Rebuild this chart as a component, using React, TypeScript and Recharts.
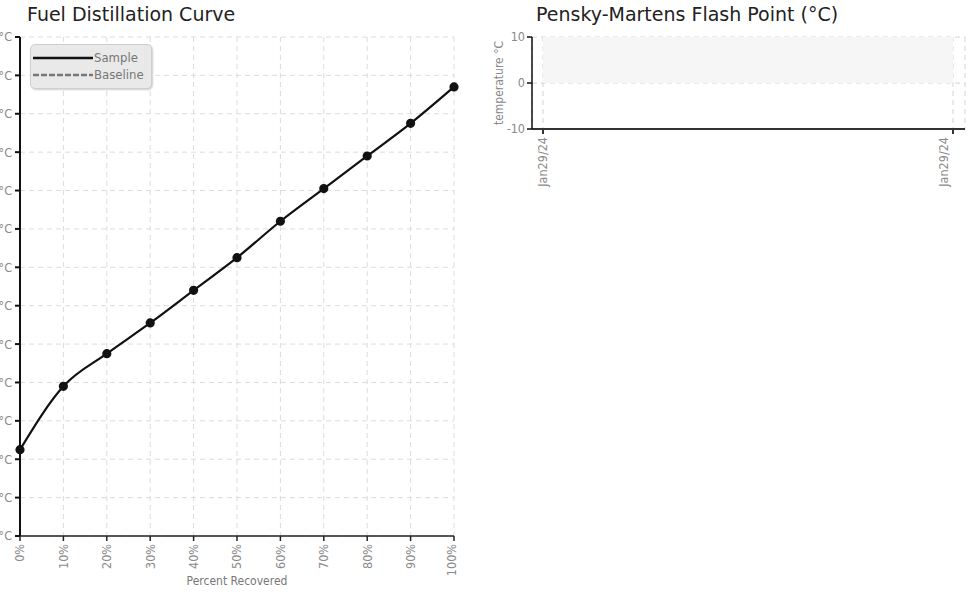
import { CartesianGrid, Legend, Line, LineChart, ReferenceArea, XAxis, YAxis } from 'recharts';

// distillation curve, percent recovered vs temperature
const recovered = [0, 10, 20, 30, 40, 50, 60, 70, 80, 90, 100];
const sampleTemps = [185, 218, 235, 251, 268, 285, 304, 321, 338, 355, 374];
const baselineTemps: (number | null)[] = [null, null, null, null, null, null, null, null, null, null, null];
const tempTicks = [140, 160, 180, 200, 220, 240, 260, 280, 300, 320, 340, 360, 380, 400];
const legendOrder = ['Sample', 'Baseline'];

// flash point history
const flashDates = ['Jan29/24', 'Jan29/24'];
const flashValues: (number | null)[] = [null, null];
const flashTicks = [-10, 0, 10];

const narrow = "'DejaVu Sans Condensed', 'Roboto', sans-serif";
const titleFont = "'DejaVu Sans', 'Noto Sans', sans-serif";

const distRows = recovered.map((pct, i) => ({ pct, sample: sampleTemps[i], baseline: baselineTemps[i] }));
const flashRows = flashDates.map((date, i) => ({ date, flash: flashValues[i] }));

const RotatedTick = ({ x, y, payload, fmt }: any) => (
  <text
    x={x}
    y={y}
    dy="0.35em"
    textAnchor="end"
    transform={`rotate(-90, ${x}, ${y})`}
    fill="#8a8a8a"
    fontSize={12.5}
    fontFamily={narrow}
  >
    {fmt ? fmt(payload.value) : payload.value}
  </text>
);

const LegendBox = ({ payload }: any) => {
  const items = [...(payload || [])].sort((a: any, b: any) => legendOrder.indexOf(a.value) - legendOrder.indexOf(b.value));
  return (
    <div
      style={{
        width: 122,
        height: 45,
        background: '#e9e9e9',
        border: '1px solid #cfcfcf',
        borderRadius: 5,
        boxShadow: '1px 1px 2px rgba(0,0,0,0.2)',
        boxSizing: 'border-box',
        padding: '4px 0 0 2px',
      }}
    >
      {items.map((entry: any) => {
        const dashed = entry.value === 'Baseline';
        return (
          <div key={entry.value} style={{ display: 'flex', alignItems: 'center', height: 17 }}>
            <svg width={60} height={6}>
              <line
                x1={0}
                x2={60}
                y1={3}
                y2={3}
                stroke={dashed ? '#777' : '#111'}
                strokeWidth={2.5}
                strokeDasharray={dashed ? '6 2' : undefined}
              />
            </svg>
            <span style={{ fontFamily: narrow, fontSize: 13, color: '#777', marginLeft: 1 }}>{entry.value}</span>
          </div>
        );
      })}
    </div>
  );
};

export default function App() {
  return (
    <div style={{ position: 'fixed', left: 0, top: 0, width: 973, height: 613, overflow: 'hidden', background: '#fff' }}>
      <div style={{ position: 'absolute', left: 27, top: 1, fontFamily: titleFont, fontSize: 19, color: '#222', lineHeight: '26px' }}>
        Fuel Distillation Curve
      </div>
      <div style={{ position: 'absolute', left: 536, top: 1, fontFamily: titleFont, fontSize: 19, color: '#222', lineHeight: '26px' }}>
        Pensky-Martens Flash Point (°C)
      </div>

      <div style={{ position: 'absolute', left: -40, top: 0 }}>
        <LineChart width={504} height={613} data={distRows} margin={{ top: 37, right: 10, bottom: 22, left: 0 }}>
          <CartesianGrid stroke="#dcdcdc" strokeDasharray="5 4" />
          <XAxis
            dataKey="pct"
            type="number"
            domain={[0, 100]}
            ticks={recovered}
            height={55}
            stroke="#222"
            strokeWidth={1.5}
            tickSize={5}
            tickMargin={3}
            tick={<RotatedTick fmt={(v: number) => `${v}%`} />}
            label={{ value: 'Percent Recovered', position: 'insideBottom', offset: 6, fill: '#777', fontSize: 12, fontFamily: narrow }}
          />
          <YAxis
            domain={[140, 400]}
            ticks={tempTicks}
            width={60}
            stroke="#111"
            strokeWidth={2}
            tickSize={5}
            tickMargin={3}
            tickFormatter={(v) => `${v}°C`}
            tick={{ fill: '#8a8a8a', fontSize: 12.5, fontFamily: narrow }}
          />
          <Legend
            layout="horizontal"
            verticalAlign="middle"
            align="center"
            wrapperStyle={{ left: 70, top: 44, width: 'auto' }}
            content={<LegendBox />}
          />
          <Line
            type="monotone"
            dataKey="sample"
            name="Sample"
            stroke="#111"
            strokeWidth={2.2}
            dot={{ r: 3.5, fill: '#111', stroke: '#111' }}
            isAnimationActive={false}
          />
          <Line
            type="monotone"
            dataKey="baseline"
            name="Baseline"
            stroke="#777"
            strokeWidth={2}
            strokeDasharray="6 2"
            dot={false}
            isAnimationActive={false}
          />
        </LineChart>
      </div>

      <div style={{ position: 'absolute', left: 470, top: 0 }}>
        <LineChart width={503} height={200} data={flashRows} margin={{ top: 37, right: 8, bottom: 6, left: 0 }}>
          <CartesianGrid stroke="#d4d4d4" strokeDasharray="5 4" />
          <XAxis
            dataKey="date"
            height={65}
            padding={{ left: 11, right: 12 }}
            stroke="#333"
            strokeWidth={2}
            tickSize={5}
            tickMargin={3}
            tick={<RotatedTick />}
          />
          <YAxis
            type="number"
            domain={[-10, 10]}
            allowDataOverflow
            ticks={flashTicks}
            width={62}
            stroke="#111"
            strokeWidth={1.5}
            tickSize={5}
            tickMargin={2}
            tick={{ fill: '#8a8a8a', fontSize: 12.5, fontFamily: narrow }}
            label={{
              value: 'temperature °C',
              angle: -90,
              position: 'insideLeft',
              offset: 29,
              style: { textAnchor: 'middle', fill: '#888', fontSize: 12, fontFamily: narrow },
            }}
          />
          <ReferenceArea y1={0} y2={10} fill="#f6f6f6" fillOpacity={1} stroke="none" ifOverflow="visible" />
          <Line
            type="monotone"
            dataKey="flash"
            name="Flash Point"
            stroke="#111"
            strokeWidth={2}
            dot={{ r: 4, fill: '#111' }}
            isAnimationActive={false}
          />
        </LineChart>
      </div>
    </div>
  );
}
